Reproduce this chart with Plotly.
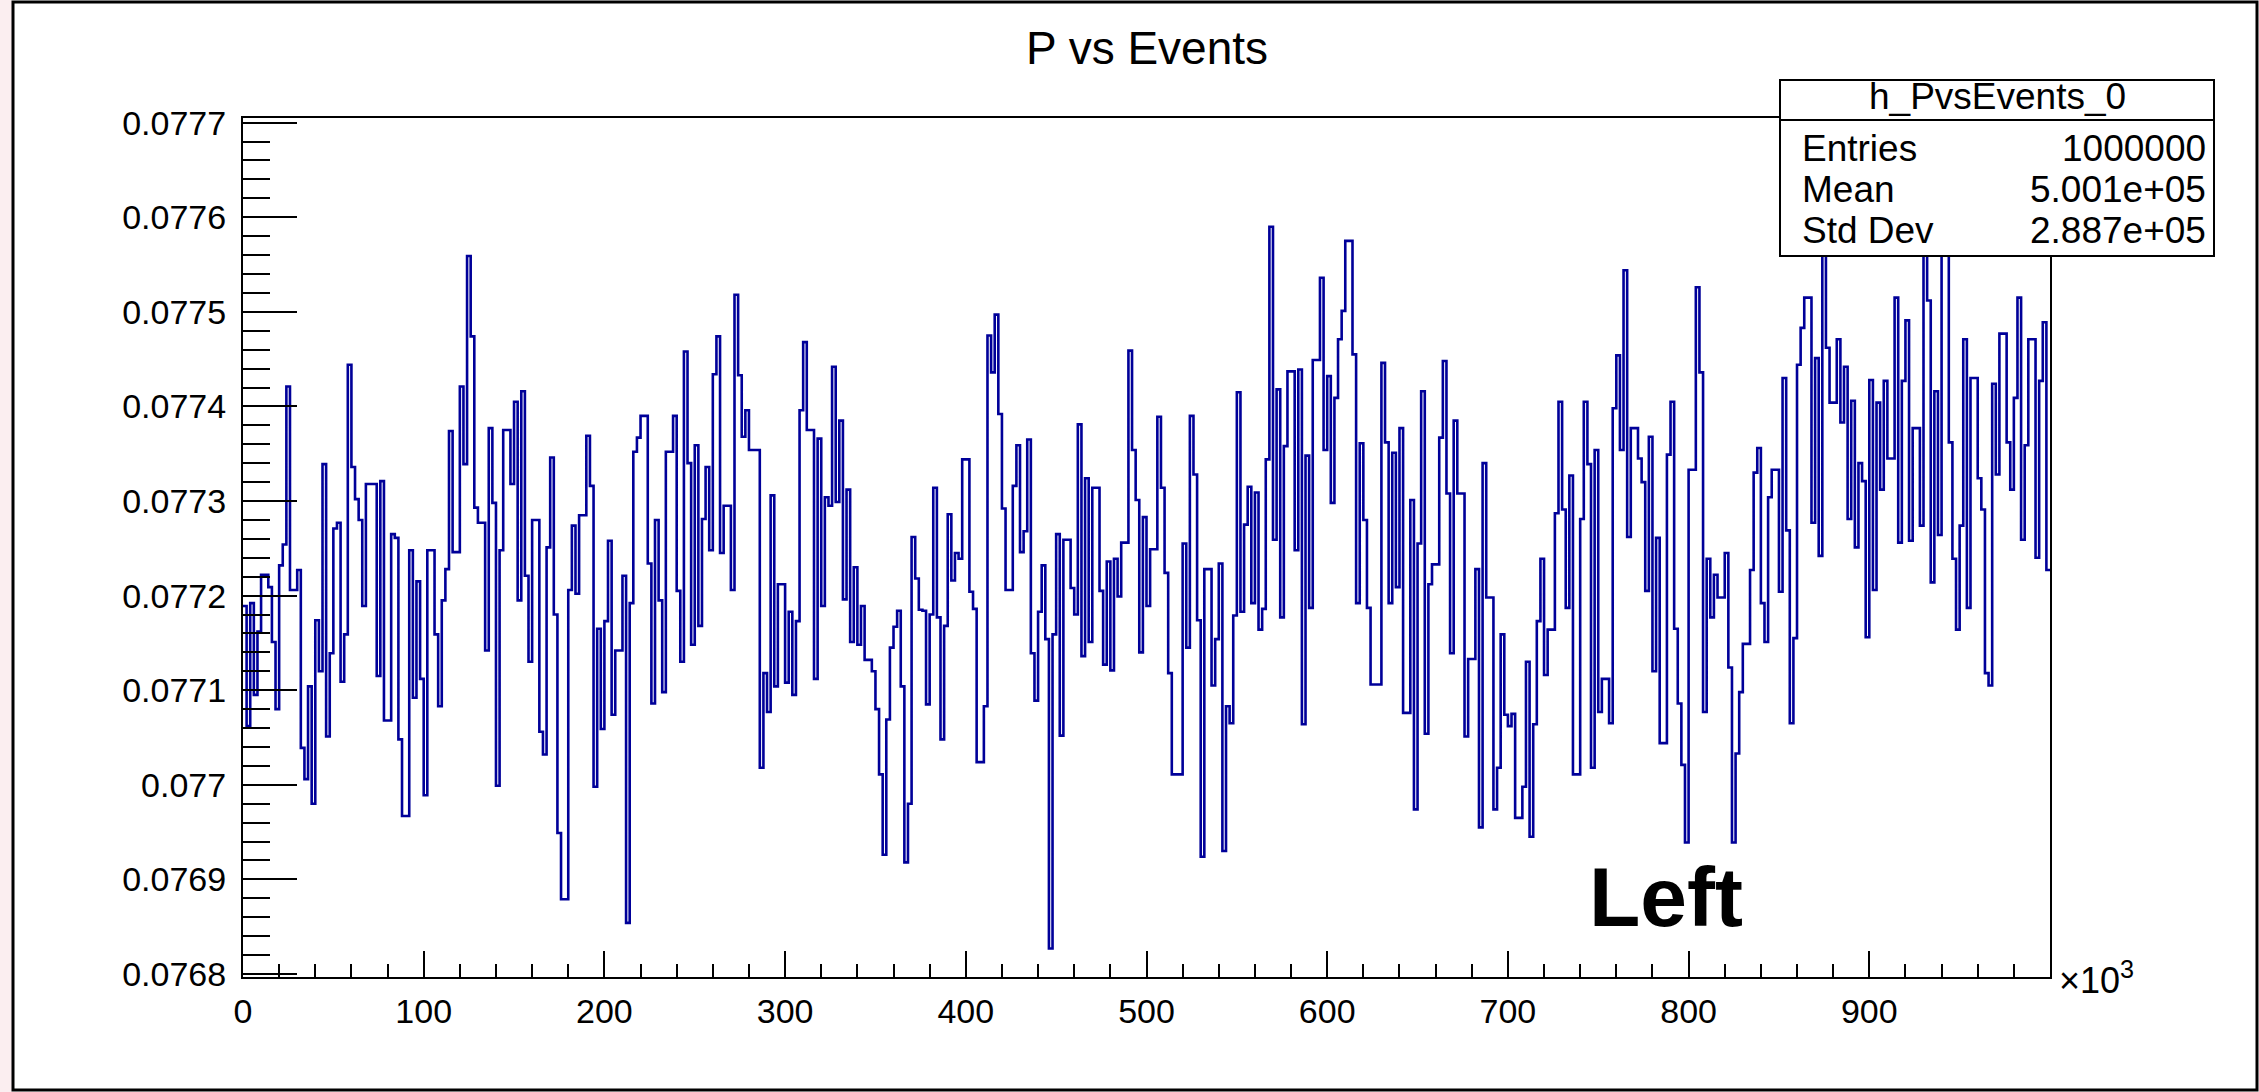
import numpy as np
import plotly.graph_objects as go

# ---------------- data ----------------
title_text = "P vs Events"
hist_name = "h_PvsEvents_0"
stat_labels = ["Entries", "Mean", "Std Dev"]
stat_values = ["1000000", "5.001e+05", "2.887e+05"]
annotation_text = "Left"

bin_width_k = 2          # bin width in units of 10^3 events
x_tick_vals = [0, 100, 200, 300, 400, 500, 600, 700, 800, 900]
x_tick_text = ["0", "100", "200", "300", "400", "500", "600", "700", "800", "900"]

p_values = [
    0.077189, 0.077062, 0.077192, 0.077095, 0.077162, 0.077222, 0.077222, 0.077209, 0.077151, 0.077080,
    0.077232, 0.077254, 0.077421, 0.077206, 0.077206, 0.077227, 0.077039, 0.077006, 0.077104, 0.076980,
    0.077174, 0.077120, 0.077339, 0.077051, 0.077139, 0.077271, 0.077277, 0.077109, 0.077159, 0.077444,
    0.077336, 0.077302, 0.077280, 0.077189, 0.077318, 0.077318, 0.077318, 0.077115, 0.077321, 0.077068,
    0.077068, 0.077265, 0.077261, 0.077048, 0.076967, 0.076967, 0.077248, 0.077092, 0.077215, 0.077112,
    0.076989, 0.077248, 0.077248, 0.077159, 0.077083, 0.077195, 0.077228, 0.077374, 0.077246, 0.077246,
    0.077421, 0.077339, 0.077559, 0.077474, 0.077293, 0.077277, 0.077277, 0.077142, 0.077377, 0.077298,
    0.076999, 0.077248, 0.077375, 0.077375, 0.077318, 0.077405, 0.077195, 0.077416, 0.077221, 0.077130,
    0.077280, 0.077280, 0.077056, 0.077032, 0.077251, 0.077346, 0.077180, 0.076949, 0.076879, 0.076879,
    0.077206, 0.077274, 0.077202, 0.077285, 0.077285, 0.077369, 0.077316, 0.076998, 0.077165, 0.077059,
    0.077173, 0.077258, 0.077074, 0.077142, 0.077142, 0.077221, 0.076854, 0.077192, 0.077352, 0.077367,
    0.077390, 0.077390, 0.077234, 0.077086, 0.077280, 0.077195, 0.077098, 0.077352, 0.077352, 0.077390,
    0.077205, 0.077130, 0.077458, 0.077340, 0.077148, 0.077359, 0.077168, 0.077281, 0.077336, 0.077248,
    0.077434, 0.077474, 0.077245, 0.077295, 0.077295, 0.077206, 0.077518, 0.077433, 0.077368, 0.077396,
    0.077354, 0.077354, 0.077354, 0.077018, 0.077118, 0.077077, 0.077306, 0.077104, 0.077212, 0.077212,
    0.077108, 0.077183, 0.077095, 0.077173, 0.077396, 0.077468, 0.077375, 0.077375, 0.077112, 0.077366,
    0.077189, 0.077304, 0.077295, 0.077442, 0.077299, 0.077385, 0.077196, 0.077312, 0.077151, 0.077230,
    0.077148, 0.077189, 0.077132, 0.077132, 0.077120, 0.077080, 0.077011, 0.076926, 0.077069, 0.077145,
    0.077167, 0.077184, 0.077104, 0.076918, 0.076980, 0.077262, 0.077218, 0.077185, 0.077184, 0.077085,
    0.077180, 0.077314, 0.077177, 0.077048, 0.077168, 0.077286, 0.077216, 0.077245, 0.077239, 0.077344,
    0.077344, 0.077204, 0.077186, 0.077024, 0.077024, 0.077083, 0.077475, 0.077436, 0.077497, 0.077392,
    0.077292, 0.077206, 0.077206, 0.077316, 0.077359, 0.077246, 0.077268, 0.077365, 0.077139, 0.077089,
    0.077183, 0.077232, 0.077154, 0.076827, 0.077159, 0.077265, 0.077052, 0.077259, 0.077259, 0.077208,
    0.077180, 0.077381, 0.077136, 0.077324, 0.077151, 0.077314, 0.077314, 0.077205, 0.077127, 0.077236,
    0.077121, 0.077239, 0.077199, 0.077256, 0.077256, 0.077459, 0.077354, 0.077301, 0.077140, 0.077283,
    0.077189, 0.077249, 0.077249, 0.077389, 0.077314, 0.077224, 0.077118, 0.077011, 0.077011, 0.077011,
    0.077255, 0.077145, 0.077390, 0.077328, 0.077174, 0.076924, 0.077228, 0.077228, 0.077105, 0.077154,
    0.077234, 0.076930, 0.077083, 0.077065, 0.077179, 0.077415, 0.077183, 0.077275, 0.077315, 0.077192,
    0.077309, 0.077164, 0.077186, 0.077344, 0.077590, 0.077259, 0.077418, 0.077177, 0.077358, 0.077437,
    0.077437, 0.077248, 0.077439, 0.077064, 0.077348, 0.077187, 0.077449, 0.077449, 0.077536, 0.077354,
    0.077432, 0.077298, 0.077409, 0.077471, 0.077501, 0.077575, 0.077575, 0.077455, 0.077192, 0.077361,
    0.077280, 0.077187, 0.077106, 0.077106, 0.077106, 0.077446, 0.077362, 0.077192, 0.077351, 0.077209,
    0.077377, 0.077076, 0.077076, 0.077301, 0.076974, 0.077255, 0.077416, 0.077054, 0.077212, 0.077233,
    0.077233, 0.077367, 0.077448, 0.077308, 0.077139, 0.077385, 0.077308, 0.077308, 0.077051, 0.077133,
    0.077133, 0.077228, 0.076955, 0.077340, 0.077198, 0.077198, 0.076974, 0.077018, 0.077159, 0.077074,
    0.077062, 0.077075, 0.076965, 0.076965, 0.076998, 0.077130, 0.076945, 0.077064, 0.077173, 0.077239,
    0.077116, 0.077164, 0.077164, 0.077287, 0.077405, 0.077291, 0.077187, 0.077327, 0.077011, 0.077011,
    0.077281, 0.077405, 0.077339, 0.077018, 0.077354, 0.077077, 0.077112, 0.077112, 0.077065, 0.077398,
    0.077454, 0.077354, 0.077544, 0.077262, 0.077377, 0.077377, 0.077345, 0.077320, 0.077205, 0.077368,
    0.077120, 0.077261, 0.077044, 0.077044, 0.077349, 0.077405, 0.077165, 0.077086, 0.077021, 0.076939,
    0.077333, 0.077333, 0.077526, 0.077436, 0.077077, 0.077239, 0.077177, 0.077222, 0.077198, 0.077198,
    0.077245, 0.077124, 0.076939, 0.077033, 0.077098, 0.077149, 0.077149, 0.077227, 0.077330, 0.077356,
    0.077192, 0.077151, 0.077304, 0.077333, 0.077333, 0.077204, 0.077430, 0.077269, 0.077065, 0.077155,
    0.077444, 0.077483, 0.077515, 0.077515, 0.077277, 0.077451, 0.077242, 0.077600, 0.077462, 0.077404,
    0.077404, 0.077471, 0.077383, 0.077442, 0.077281, 0.077406, 0.077251, 0.077340, 0.077321, 0.077156,
    0.077428, 0.077206, 0.077404, 0.077312, 0.077427, 0.077345, 0.077345, 0.077515, 0.077256, 0.077427,
    0.077491, 0.077258, 0.077377, 0.077377, 0.077274, 0.077600, 0.077512, 0.077214, 0.077416, 0.077264,
    0.077595, 0.077585, 0.077362, 0.077239, 0.077164, 0.077274, 0.077471, 0.077187, 0.077430, 0.077430,
    0.077324, 0.077291, 0.077118, 0.077105, 0.077424, 0.077328, 0.077477, 0.077477, 0.077362, 0.077312,
    0.077409, 0.077515, 0.077259, 0.077359, 0.077471, 0.077471, 0.077240, 0.077427, 0.077489, 0.077227,
]

# ---------------- geometry ----------------
W, H = 2259, 1092
L, R, T, B = 243, 209, 118, 115
PW, PH = W - L - R, H - T - B
FONT = "Liberation Sans, Arial, Helvetica, sans-serif"
LINE_COLOR = "#000099"


def px(xp):
    return (xp - L) / PW


def py(yp):
    return (H - B - yp) / PH


n_bins = len(p_values)
edges = np.arange(n_bins + 1) * bin_width_k
x_step = edges
y_step = list(p_values) + [p_values[-1]]

fig = go.Figure()
fig.add_trace(go.Scatter(
    x=x_step, y=y_step, mode="lines",
    line=dict(shape="hv", color=LINE_COLOR, width=2.6),
    hoverinfo="skip", showlegend=False,
))

fig.update_layout(
    width=W, height=H, autosize=False,
    margin=dict(l=L, r=R, t=T, b=B, pad=0),
    paper_bgcolor="white", plot_bgcolor="white",
    showlegend=False,
    font=dict(family=FONT, color="black", size=34),
)

fig.update_xaxes(
    range=[0, n_bins * bin_width_k],
    tickmode="array", tickvals=x_tick_vals, ticktext=x_tick_text,
    ticks="inside", ticklen=26, tickwidth=2, tickcolor="black",
    minor=dict(tickmode="linear", tick0=0, dtick=20, ticks="inside",
               ticklen=13, tickwidth=2, tickcolor="black"),
    showgrid=False, zeroline=False,
    showline=True, linecolor="black", linewidth=2, mirror=True,
    tickfont=dict(family=FONT, size=34, color="black"),
    ticklabelstandoff=3,
)

fig.update_yaxes(
    range=[0.0767968, 0.0777049],
    tickmode="linear", tick0=0.0768, dtick=0.0001, tickformat=".4~f",
    ticks="inside", ticklen=54, tickwidth=2, tickcolor="black",
    minor=dict(tickmode="linear", tick0=0.0768, dtick=0.00002, ticks="inside",
               ticklen=27, tickwidth=2, tickcolor="black"),
    showgrid=False, zeroline=False,
    showline=True, linecolor="black", linewidth=2, mirror=True,
    tickfont=dict(family=FONT, size=34, color="black"),
    ticklabelstandoff=8,
)

shapes = []
# outer canvas border (ROOT window frame)
shapes.append(dict(type="rect", xref="paper", yref="paper",
                   x0=px(0), x1=px(12), y0=py(H), y1=py(0),
                   fillcolor="#fbeef0", line=dict(width=0), layer="below"))
shapes.append(dict(type="rect", xref="paper", yref="paper",
                   x0=px(13), x1=px(W - 2), y0=py(H - 2), y1=py(2),
                   fillcolor="rgba(0,0,0,0)", line=dict(color="black", width=3), layer="above"))
# statistics box
SB_L, SB_R, SB_T, SB_B, SB_SEP = 1780, 2214, 80, 256, 120
shapes.append(dict(type="rect", xref="paper", yref="paper",
                   x0=px(SB_L), x1=px(SB_R), y0=py(SB_B), y1=py(SB_T),
                   fillcolor="white", line=dict(color="black", width=2), layer="above"))
shapes.append(dict(type="line", xref="paper", yref="paper",
                   x0=px(SB_L), x1=px(SB_R), y0=py(SB_SEP), y1=py(SB_SEP),
                   line=dict(color="black", width=2), layer="above"))
fig.update_layout(shapes=shapes)

ann = []
ann.append(dict(text=title_text, xref="paper", yref="paper", x=px(1147), y=py(48),
                xanchor="center", yanchor="middle", showarrow=False,
                font=dict(family=FONT, size=46, color="black")))
ann.append(dict(text=hist_name, xref="paper", yref="paper", x=px((SB_L + SB_R) / 2), y=py(97),
                xanchor="center", yanchor="middle", showarrow=False,
                font=dict(family=FONT, size=37, color="black")))
row_y = [148, 189, 230]
for lab, val, ry in zip(stat_labels, stat_values, row_y):
    ann.append(dict(text=lab, xref="paper", yref="paper", x=px(1800), y=py(ry),
                    xanchor="left", yanchor="middle", showarrow=False,
                    font=dict(family=FONT, size=37, color="black")))
    ann.append(dict(text=val, xref="paper", yref="paper", x=px(2208), y=py(ry),
                    xanchor="right", yanchor="middle", showarrow=False,
                    font=dict(family=FONT, size=37, color="black")))
ann.append(dict(text="×10<sup>3</sup>", xref="paper", yref="paper", x=px(2057), y=py(978),
                xanchor="left", yanchor="middle", showarrow=False,
                font=dict(family=FONT, size=36, color="black")))
ann.append(dict(text="<b>" + annotation_text + "</b>", xref="paper", yref="paper", x=px(1587), y=py(897),
                xanchor="left", yanchor="middle", showarrow=False,
                font=dict(family=FONT, size=84, color="black")))
fig.update_layout(annotations=ann)

fig.write_html(
    "out.html",
    config={"displayModeBar": False, "staticPlot": True},
    post_script="document.body.style.margin='0px';document.body.style.overflow='hidden';",
)
